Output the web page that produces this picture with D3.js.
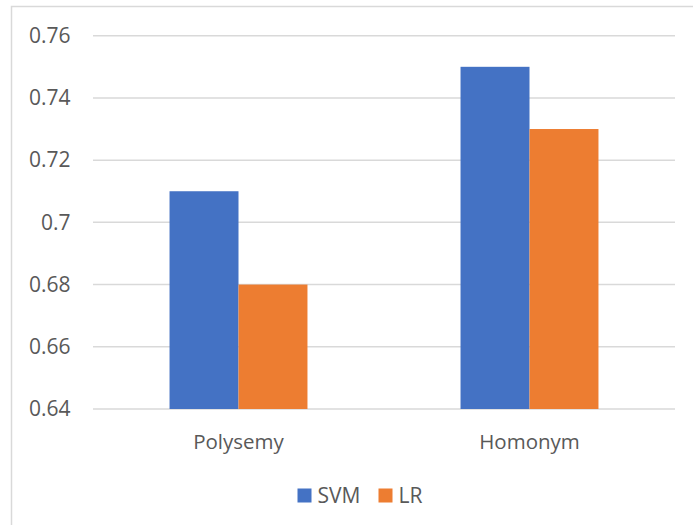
<!DOCTYPE html>
<html>
<head>
<meta charset="utf-8">
<script src="https://cdn.jsdelivr.net/npm/d3@7"></script>
<style>
  body { margin: 0; background: #fff; }
  text { font-family: "Open Sans", sans-serif; fill: #595959; }
</style>
</head>
<body>
<script>
var w = 693;
var h = 525;

var categories = ["Polysemy", "Homonym"];
var seriesNames = ["SVM", "LR"];
var svmValues = [0.71, 0.75];
var lrValues = [0.68, 0.73];
var yTicks = [0.64, 0.66, 0.68, 0.70, 0.72, 0.74, 0.76];

var colors = ["#4472c4", "#ed7d31"];

var rows = categories.map(function(c, i) {
  return { cat: c, vals: [svmValues[i], lrValues[i]] };
});

var svg = d3.select("body")
  .append("svg")
  .attr("width", w)
  .attr("height", h);

// chart frame
svg.append("rect")
  .attr("x", 11.5)
  .attr("y", 6.5)
  .attr("width", 700)
  .attr("height", 600)
  .attr("fill", "none")
  .attr("stroke", "#d9d9d9")
  .attr("stroke-width", 1.5);

var x0 = d3.scaleBand()
  .domain(categories)
  .range([93, 675])
  .paddingInner(0.526)
  .paddingOuter(0.263);

var x1 = d3.scaleBand()
  .domain(seriesNames)
  .range([0, x0.bandwidth()]);

var y = d3.scaleLinear()
  .domain([0.64, 0.76])
  .range([409, 35.7]);

// gridlines
svg.append("g")
  .selectAll("line")
  .data(yTicks)
  .enter()
  .append("line")
  .attr("x1", 93)
  .attr("x2", 675)
  .attr("y1", function(d) { return y(d); })
  .attr("y2", function(d) { return y(d); })
  .attr("stroke", "#d9d9d9")
  .attr("stroke-width", 1.5);

// y tick labels
var yAxis = d3.axisLeft(y)
  .tickValues(yTicks)
  .tickSize(0)
  .tickPadding(0)
  .tickFormat(function(d) { return d3.format("")(+d.toFixed(2)); });

var ya = svg.append("g")
  .attr("transform", "translate(70.5,0)")
  .call(yAxis);
ya.select(".domain").remove();
ya.selectAll("text")
  .attr("font-family", "Open Sans, sans-serif")
  .attr("font-size", 21)
  .attr("fill", "#595959");

// bars
svg.append("g")
  .selectAll("g")
  .data(rows)
  .enter()
  .append("g")
  .attr("transform", function(d) { return "translate(" + x0(d.cat) + ",0)"; })
  .selectAll("rect")
  .data(function(d) { return d.vals; })
  .enter()
  .append("rect")
  .attr("x", function(d, i) { return x1(seriesNames[i]); })
  .attr("y", function(d) { return y(d); })
  .attr("width", x1.bandwidth())
  .attr("height", function(d) { return y(0.64) - y(d); })
  .attr("fill", function(d, i) { return colors[i]; });

// x labels
var xAxis = d3.axisBottom(x0)
  .tickSize(0)
  .tickPadding(0);

var xa = svg.append("g")
  .attr("transform", "translate(0,449)")
  .call(xAxis);
xa.select(".domain").remove();
xa.selectAll("text")
  .attr("y", 0)
  .attr("dy", 0)
  .attr("font-family", "Open Sans, sans-serif")
  .attr("font-size", 20.5)
  .attr("fill", "#595959");

// legend
var legX = [297.5, 378.5];
var leg = svg.append("g");
seriesNames.forEach(function(s, i) {
  leg.append("rect")
    .attr("x", legX[i])
    .attr("y", 488.5)
    .attr("width", 14)
    .attr("height", 14)
    .attr("fill", colors[i]);
  leg.append("text")
    .attr("x", legX[i] + 20)
    .attr("y", 502.5)
    .attr("font-size", 21)
    .text(s);
});
</script>
</body>
</html>
